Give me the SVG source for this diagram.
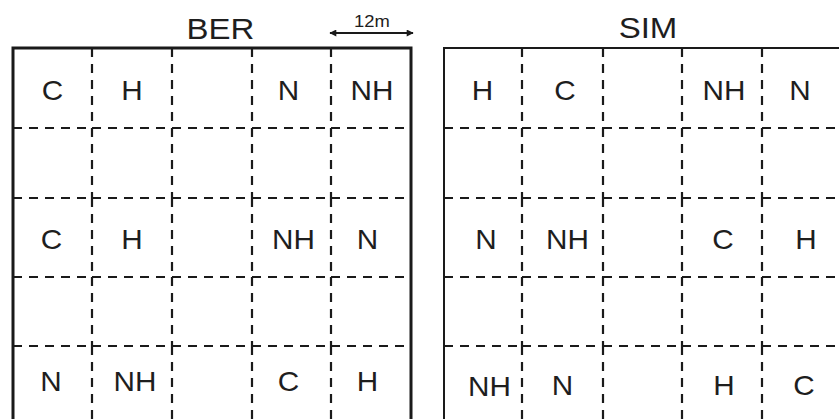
<svg xmlns="http://www.w3.org/2000/svg" width="839" height="419" viewBox="0 0 839 419">
<style>
.bg{fill:#fff}
.border{fill:none;stroke:#1a1a1a;stroke-linejoin:miter}
.dash{fill:none;stroke:#1a1a1a;stroke-width:2.2;stroke-dasharray:9 7}
.t{font-family:"Liberation Sans",Arial,sans-serif;fill:#1e1e1e;text-anchor:middle}
.title{font-size:30px}
.cell{font-size:27px}
.scale{font-size:16px}
</style>
<defs>
<marker id="ah" viewBox="0 0 10 10" refX="9" refY="5" markerWidth="9" markerHeight="7" markerUnits="userSpaceOnUse" orient="auto-start-reverse">
<path d="M0,0 L10,5 L0,10 Z" fill="#1a1a1a"/>
</marker>
</defs>
<rect class="bg" x="0" y="0" width="839" height="419"/>

<g id="connectors">
<path class="dash" d="M13 128H92M92 128H172M172 128H252M252 128H331M331 128H411
M13 198H92M92 198H172M172 198H252M252 198H331M331 198H411
M13 277H92M92 277H172M172 277H252M252 277H331M331 277H411
M13 346H92M92 346H172M172 346H252M252 346H331M331 346H411"/>
<path class="dash" d="M92 48V128M92 128V198M92 198V277M92 277V346M92 346V419
M172 48V128M172 128V198M172 198V277M172 277V346M172 346V419
M252 48V128M252 128V198M252 198V277M252 277V346M252 346V419
M331 48V128M331 128V198M331 198V277M331 277V346M331 346V419"/>
<path class="dash" d="M444 128H522M522 128H603M603 128H682M682 128H762M762 128H842
M444 198H522M522 198H603M603 198H682M682 198H762M762 198H842
M444 277H522M522 277H603M603 277H682M682 277H762M762 277H842
M444 346H522M522 346H603M603 346H682M682 346H762M762 346H842"/>
<path class="dash" d="M522 48V128M522 128V198M522 198V277M522 277V346M522 346V419
M603 48V128M603 128V198M603 198V277M603 277V346M603 346V419
M682 48V128M682 128V198M682 198V277M682 277V346M682 346V419
M762 48V128M762 128V198M762 198V277M762 277V346M762 346V419"/>
<line x1="330" y1="33" x2="413" y2="33" stroke="#1a1a1a" stroke-width="2" marker-start="url(#ah)" marker-end="url(#ah)"/>
</g>

<g id="BER">
<path class="border" stroke-width="3" d="M13 419V48H411V419"/>
<text class="t title" transform="translate(220.5,38.5) scale(1.1,1)">BER</text>
</g>
<g id="SIM">
<path class="border" stroke-width="2" d="M444 419V48H842"/>
<text class="t title" transform="translate(648,38) scale(1.1,1)">SIM</text>
</g>
<g id="scale">
<text class="t scale" transform="translate(372,26.5) scale(1.15,1)">12m</text>
</g>

<g id="ber-cells">
<text class="t cell" transform="translate(52.5,100) scale(1.1,1)">C</text>
<text class="t cell" transform="translate(132,100) scale(1.1,1)">H</text>
<text class="t cell" transform="translate(288.5,100) scale(1.1,1)">N</text>
<text class="t cell" transform="translate(372,100) scale(1.1,1)">NH</text>
<text class="t cell" transform="translate(51.5,249) scale(1.1,1)">C</text>
<text class="t cell" transform="translate(132,249) scale(1.1,1)">H</text>
<text class="t cell" transform="translate(293.5,249) scale(1.1,1)">NH</text>
<text class="t cell" transform="translate(367.5,249) scale(1.1,1)">N</text>
<text class="t cell" transform="translate(51,390.5) scale(1.1,1)">N</text>
<text class="t cell" transform="translate(135,390.5) scale(1.1,1)">NH</text>
<text class="t cell" transform="translate(288.5,390.5) scale(1.1,1)">C</text>
<text class="t cell" transform="translate(367.5,390.5) scale(1.1,1)">H</text>
</g>
<g id="sim-cells">
<text class="t cell" transform="translate(482.5,100) scale(1.1,1)">H</text>
<text class="t cell" transform="translate(565,100) scale(1.1,1)">C</text>
<text class="t cell" transform="translate(724,100) scale(1.1,1)">NH</text>
<text class="t cell" transform="translate(800,100) scale(1.1,1)">N</text>
<text class="t cell" transform="translate(486,249) scale(1.1,1)">N</text>
<text class="t cell" transform="translate(567.5,249) scale(1.1,1)">NH</text>
<text class="t cell" transform="translate(723,249) scale(1.1,1)">C</text>
<text class="t cell" transform="translate(806,249) scale(1.1,1)">H</text>
<text class="t cell" transform="translate(489.5,396) scale(1.1,1)">NH</text>
<text class="t cell" transform="translate(562.5,395) scale(1.1,1)">N</text>
<text class="t cell" transform="translate(724,395) scale(1.1,1)">H</text>
<text class="t cell" transform="translate(804,395) scale(1.1,1)">C</text>
</g>
</svg>
